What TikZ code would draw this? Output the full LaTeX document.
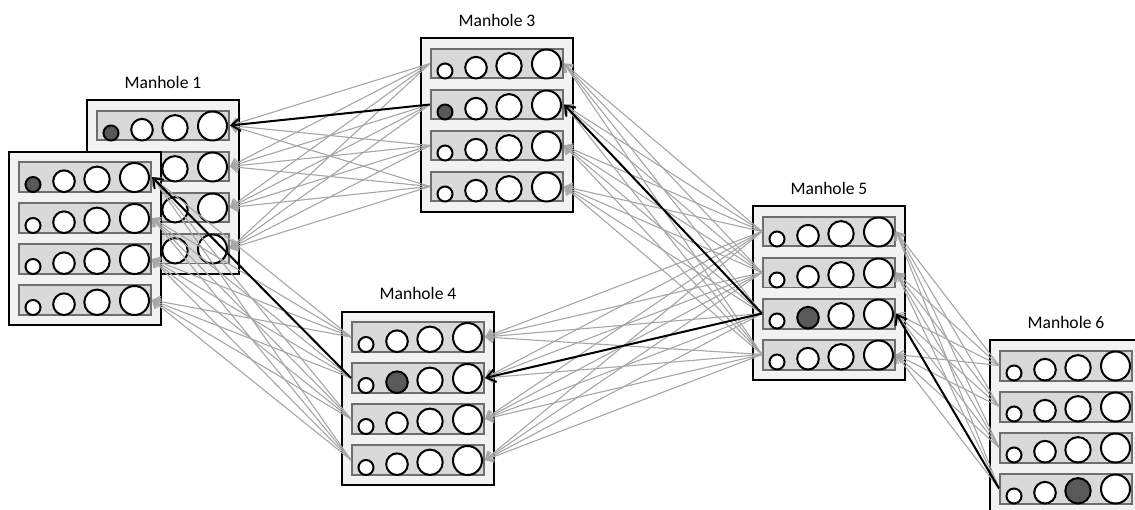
\documentclass[tikz,border=0pt]{standalone}
\usepackage{fontspec}
\setmainfont{Carlito}
\usetikzlibrary{positioning,arrows.meta}
\definecolor{boxgray}{RGB}{242,242,242}
\definecolor{slotgray}{RGB}{217,217,217}
\definecolor{slotedge}{RGB}{110,110,110}
\definecolor{holedark}{RGB}{89,89,89}
\definecolor{linkgray}{RGB}{166,166,166}

\begin{document}
\begin{tikzpicture}[x=0.02cm, y=-0.02cm,
    box/.style={draw, line width=0.04cm, fill=boxgray, minimum width=3.04cm, minimum height=3.48cm, inner sep=0pt},
    slot/.style={draw=slotedge, line width=0.04cm, fill=slotgray, minimum width=2.64cm, minimum height=0.6cm, inner sep=0pt},
    ball/.style={draw, circle, line width=0.04cm, inner sep=0pt},
    title/.style={font=\fontsize{10}{12}\selectfont},
    link/.style={linkgray, line width=0.022cm, -{Straight Barb[length=4pt,width=6pt]}},
    route/.style={black, line width=0.04cm, -{Straight Barb[length=5pt,width=7.5pt]}}]
    \useasboundingbox (0,0) rectangle (1135,510);

    % manholes: number / centre / dark slot / dark ball
    \foreach \m/\cx/\cy/\dr/\dc in {1/163/187/1/1, 2/85/238.5/1/1, 3/497/125/2/1, 4/418/398.5/2/2, 5/829/293/3/2, 6/1066/427/4/3} {
        \node[box] (m\m) at (\cx,\cy) {};
        \foreach \r/\dy in {1/-61.5, 2/-20.5, 3/20.5, 4/61.5} {
            \node[slot] (m\m-\r) at (\cx,\cy+\dy) {};
            \foreach \c/\dx/\rad in {1/-52/7.5, 2/-21/10.8, 3/12/12.7, 4/49.5/14.5} {
                \ifnum\r\c=\dr\dc \def\ballfill{holedark}\else\def\ballfill{white}\fi
                \node[ball, fill=\ballfill, minimum size=\rad*0.04cm] (m\m-\r-\c) at (\cx+\dx,\cy+\dy+15-\rad) {};
            }
        }
    }

    \node[title, above=2.4pt of m1] (t1) {Manhole 1};
    \node[title, above=2.4pt of m3] (t3) {Manhole 3};
    \node[title, above=2.4pt of m4] (t4) {Manhole 4};
    \node[title, above=2.4pt of m5] (t5) {Manhole 5};
    \node[title, above=2.4pt of m6] (t6) {Manhole 6};

    % every slot to every slot
    \foreach \s/\t in {3/1, 4/2, 5/3, 5/4, 6/5}
        \foreach \i in {1,...,4}
            \foreach \j in {1,...,4}
                \draw[link] (m\s-\i.west) -- (m\t-\j.east);

    % chosen route
    \draw[route] (m6-4.west) -- (m5-3.east);
    \draw[route] (m5-3.west) -- (m4-2.east);
    \draw[route] (m5-3.west) -- (m3-2.east);
    \draw[route] (m4-2.west) -- (m2-1.east);
    \draw[route] (m3-2.west) -- (m1-1.east);
\end{tikzpicture}
\end{document}
